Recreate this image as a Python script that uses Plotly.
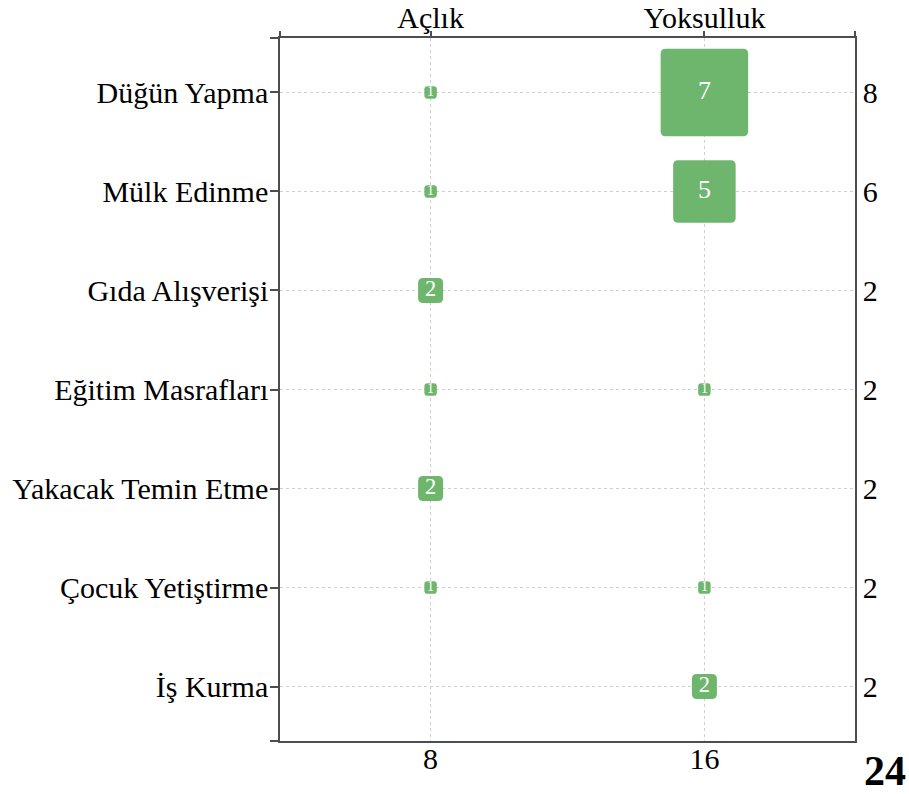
import plotly.graph_objects as go

rows = ["Düğün Yapma", "Mülk Edinme", "Gıda Alışverişi", "Eğitim Masrafları",
        "Yakacak Temin Etme", "Çocuk Yetiştirme", "İş Kurma"]
cols = ["Açlık", "Yoksulluk"]
aclik = [1, 1, 2, 1, 2, 1, 0]
yoksulluk = [7, 5, 0, 1, 0, 1, 2]

series = [aclik, yoksulluk]
row_totals = [a + b for a, b in zip(aclik, yoksulluk)]
col_totals = [sum(s) for s in series]
grand_total = sum(row_totals)

FONT = "Liberation Serif, Times New Roman, serif"
GREEN = "#66b266"
UNIT = 12.5

xs, ys, sizes, texts, tsizes = [], [], [], [], []
for ci, s in enumerate(series):
    for ri, v in enumerate(s):
        if v > 0:
            xs.append(ci)
            ys.append(ri)
            sizes.append(v * UNIT)
            texts.append(str(v))
            tsizes.append(max(14, min(26, v * UNIT * 0.9)))


def rounded_square(side):
    h = side / 2.0
    r = min(5.0, side * 0.25)
    return (f"M{-h + r},{-h} L{h - r},{-h} Q{h},{-h} {h},{-h + r} "
            f"L{h},{h - r} Q{h},{h} {h - r},{h} L{-h + r},{h} "
            f"Q{-h},{h} {-h},{h - r} L{-h},{-h + r} Q{-h},{-h} {-h + r},{-h} Z")


# rounded squares, sized in pixels from each value, anchored at the data position
shapes = [dict(type="path", xref="x", yref="y", xsizemode="pixel", ysizemode="pixel",
               xanchor=x, yanchor=y, path=rounded_square(s),
               fillcolor=GREEN, opacity=0.95, line=dict(width=0), layer="between")
          for x, y, s in zip(xs, ys, sizes)]

fig = go.Figure()
fig.add_trace(go.Scatter(
    x=xs, y=ys, mode="markers+text",
    marker=dict(symbol="square", size=sizes, color="rgba(0,0,0,0)",
                line=dict(width=0)),
    text=texts, textposition="middle center",
    textfont=dict(family=FONT, size=tsizes, color="white"),
    hoverinfo="skip", showlegend=False,
))
# invisible trace to activate the secondary axes
fig.add_trace(go.Scatter(x=[0, 1], y=[0, 6], xaxis="x2", yaxis="y2",
                         mode="markers", marker=dict(opacity=0),
                         hoverinfo="skip", showlegend=False))

xr = [-0.55, 1.55]
yr = [6.55, -0.55]
line = dict(showline=True, linecolor="#4d4d4d", linewidth=1.5, automargin=False)
FS = 30

fig.update_layout(
    width=909, height=794,
    margin=dict(l=280, r=54, t=38, b=53),
    paper_bgcolor="white", plot_bgcolor="white",
    font=dict(family=FONT, size=FS, color="black"),
    shapes=shapes,
    xaxis=dict(range=xr, tickvals=list(range(len(cols))),
               ticktext=[str(t) for t in col_totals],
               showgrid=True, gridcolor="#d0d0d0", griddash="dot", gridwidth=1,
               ticks="", zeroline=False, tickfont=dict(size=FS),
               ticklabelstandoff=-10, **line),
    xaxis2=dict(range=xr, overlaying="x", side="top",
                tickvals=[xr[0], 0, 1, xr[1]], ticktext=["", cols[0], cols[1], ""],
                showgrid=False, ticks="outside", ticklen=5, tickwidth=1.5,
                tickcolor="#4d4d4d", zeroline=False, tickfont=dict(size=FS),
                ticklabelstandoff=-9, **line),
    yaxis=dict(range=yr, tickvals=[yr[1]] + list(range(len(rows))) + [yr[0]],
               ticktext=[""] + rows + [""],
               showgrid=True, gridcolor="#d0d0d0", griddash="dot", gridwidth=1,
               ticks="outside", ticklen=8, tickwidth=1.5, tickcolor="#4d4d4d",
               zeroline=False, tickfont=dict(size=FS),
               ticklabelstandoff=-4, **line),
    yaxis2=dict(range=yr, overlaying="y", side="right",
                tickvals=list(range(len(rows))),
                ticktext=[str(t) for t in row_totals],
                showgrid=False, ticks="", zeroline=False,
                tickfont=dict(size=FS), **line),
    annotations=[dict(text="<b>%d</b>" % grand_total, xref="paper", yref="paper",
                      x=1.0, y=0.0, xanchor="center", yanchor="top",
                      xshift=30, yshift=-5, showarrow=False,
                      font=dict(family=FONT, size=42, color="black"))],
)

fig.write_html("out.html",
               config={"displayModeBar": False},
               post_script="document.body.style.margin='0px';"
                           "document.body.style.overflow='hidden';")
